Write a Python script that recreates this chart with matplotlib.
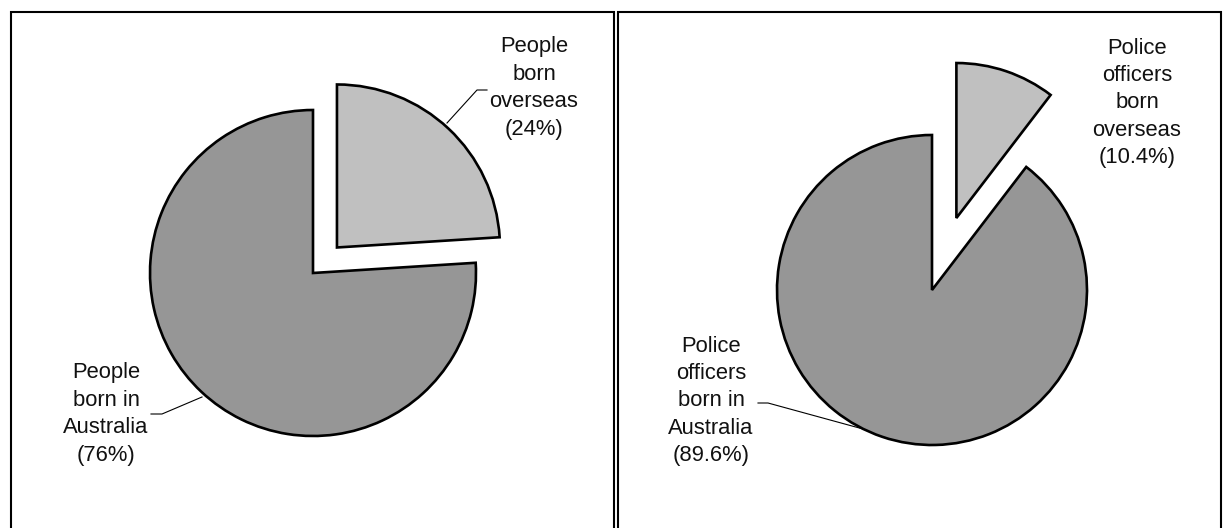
import matplotlib
matplotlib.use('Agg')
from matplotlib import pyplot as plt
from matplotlib.patches import Rectangle

# Shares (%) born overseas / born in Australia
people_share = [24, 76]
police_share = [10.4, 89.6]

people_names = ['People\nborn\noverseas', 'People\nborn in\nAustralia']
police_names = ['Police\nofficers\nborn\noverseas', 'Police\nofficers\nborn in\nAustralia']

slice_colors = ['#c0c0c0', '#969696']

W, H = 1225, 528

fig = plt.figure(figsize=(W/100., H/100.), dpi=100)
ax = fig.add_axes([0, 0, 1, 1])

wp = dict(edgecolor='black', linewidth=1.9, joinstyle='miter')

# Left pie (people)
r1 = 163
ax.pie(people_share, colors=slice_colors, startangle=90, counterclock=False,
       explode=[35, 0], center=(313, H-273), radius=r1, wedgeprops=wp)

# Right pie (police officers)
r2 = 155
ax.pie(police_share, colors=slice_colors, startangle=90, counterclock=False,
       explode=[76, 0], center=(932, H-290), radius=r2, wedgeprops=wp)

ax.set_xlim(0, W)
ax.set_ylim(0, H)
ax.set_aspect('equal')
ax.axis('off')

# panel frames
ax.add_patch(Rectangle((11, -20), 603, H-12+20, fill=False, lw=1.5, ec='black'))
ax.add_patch(Rectangle((618, -20), 603, H-12+20, fill=False, lw=1.5, ec='black'))

txt = dict(ha='center', va='center', multialignment='center', fontsize=15.8,
           family=['Liberation Sans', 'DejaVu Sans'], linespacing=1.4, color='#111111')

def lab(name, val):
    return '%s\n(%g%%)' % (name, val)

ax.text(534, H-88, lab(people_names[0], people_share[0]), **txt)
ax.text(106, H-414, lab(people_names[1], people_share[1]), **txt)
ax.text(1137, H-103, lab(police_names[0], police_share[0]), **txt)
ax.text(711, H-401, lab(police_names[1], police_share[1]), **txt)

# leader lines
ax.plot([447, 477, 487], [H-123, H-90, H-90], color='black', lw=0.8)
ax.plot([151, 162, 202], [H-414, H-414, H-397], color='black', lw=0.8)
ax.plot([758, 768, 863], [H-403, H-403, H-429], color='black', lw=0.8)

fig.savefig('out.png', dpi=100, facecolor='white')
